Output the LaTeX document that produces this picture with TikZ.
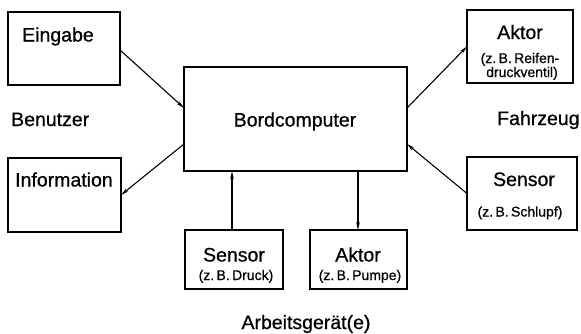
\documentclass[tikz,border=0pt]{standalone}
\usepackage{fontspec}
\setmainfont{Liberation Sans}[FakeBold=0.7]
\usetikzlibrary{arrows.meta,calc}
\begin{document}
\begin{tikzpicture}[x=1pt,y=-1pt,
  box/.style={draw,line width=1.8pt,inner sep=0pt,outer sep=0pt,rectangle},
  big/.style={inner sep=0pt,anchor=base,font=\fontsize{19.5}{22}\selectfont},
  small/.style={inner sep=0pt,anchor=base,font=\fontsize{14}{16}\selectfont},
  conn/.style={line width=1.1pt,-{Stealth[length=8pt,width=3.6pt]}}]
\useasboundingbox (0,0) rectangle (581,333);
% boxes
\node[box,minimum width=112pt,minimum height=73pt] (eing) at (64,48.5) {};
\node[box,minimum width=113pt,minimum height=74pt] (info) at (64.5,195) {};
\node[box,minimum width=223pt,minimum height=104pt] (bord) at (295.5,119) {};
\node[box,minimum width=106pt,minimum height=73pt] (aktr) at (520,46.5) {};
\node[box,minimum width=110pt,minimum height=73pt] (sensr) at (522,193.5) {};
\node[box,minimum width=98pt,minimum height=59pt] (sensb) at (234,259.5) {};
\node[box,minimum width=97pt,minimum height=59pt] (aktb) at (358.5,259.5) {};
% texts
\node[big,anchor=base west] (teing) at (22,41.5) {Eingabe};
\node[big,anchor=base west] (tinfo) at (15,186.5) {Information};
\node[big,anchor=base west] (tben) at (11,126) {Benutzer};
\node[big] (tbord) at (295,126.5) {Bordcomputer};
\node[big,anchor=base west] (tfahr) at (497,125) {Fahrzeug};
\node[big] (taktr) at (520,39) {Aktor};
\node[small] (taktr1) at (520,63) {(z.\,B.\,Reifen-};
\node[small] (taktr2) at (522,77) {druckventil)};
\node[big] (tsensr) at (524,186) {Sensor};
\node[small] (tsensr1) at (520,216.5) {(z.\,B.\,Schlupf)};
\node[big] (tsensb) at (234,261.5) {Sensor};
\node[small] (tsensb1) at (236,280) {(z.\,B.\,Druck)};
\node[big] (taktb) at (358,261.5) {Aktor};
\node[small] (taktb1) at (360,280) {(z.\,B.\,Pumpe)};
\node[big] (tarb) at (306,329) {Arbeitsgerät(e)};
% connectors
\draw[conn] ([yshift=-1.5pt]eing.east) -- ([yshift=11pt]bord.west);
\draw[conn] ([yshift=-25pt]bord.west) -- (info.east);
\draw[conn] ([yshift=11pt]bord.east) -- (aktr.west);
\draw[conn] (sensr.west) -- ([yshift=-25pt]bord.east);
\draw[conn] ([xshift=-2pt]sensb.north) -- ([xshift=-2pt]sensb.north |- bord.south);
\draw[conn] ([xshift=-0.5pt]aktb.north |- bord.south) -- ([xshift=-0.5pt]aktb.north);
\end{tikzpicture}
\end{document}
